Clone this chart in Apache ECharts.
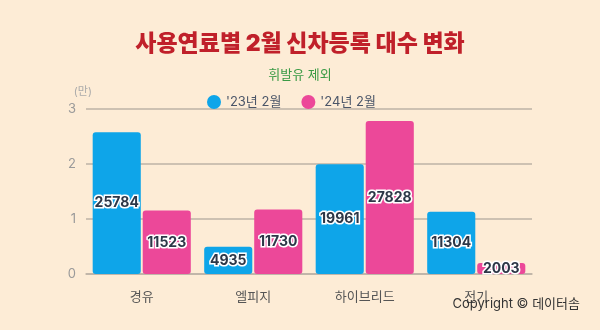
<!DOCTYPE html>
<html>
<head>
<meta charset="utf-8">
<script src="https://cdn.jsdelivr.net/npm/echarts@6/dist/echarts.min.js"></script>
<style>
html,body{margin:0;padding:0;background:#fdecd6;}
#chart{width:600px;height:330px;}
</style>
</head>
<body>
<div id="chart"></div>
<script>
// 연료별 2월 신차등록 대수 (휘발유 제외)
const categories = ['경유', '엘피지', '하이브리드', '전기'];
const seriesNames = ["'23년 2월", "'24년 2월"];
const feb2023 = [25784, 4935, 19961, 11304];
const feb2024 = [11523, 11730, 27828, 2003];
const yTickLabels = ['0', '1', '2', '3'];

const FONT = 'Inter, "Noto Sans CJK KR", "Noto Sans", sans-serif';
const colors = ['#0ea5e9', '#ec4899'];

const chart = echarts.init(document.getElementById('chart'));

const labelStyle = {
  show: true,
  position: 'inside',
  color: '#2d3748',
  fontWeight: 'bold',
  fontSize: 14,
  fontFamily: FONT,
  textBorderColor: '#ffffff',
  textBorderWidth: 3
};

chart.setOption({
  backgroundColor: '#fdecd6',
  title: [
    {
      text: '사용연료별 2월 신차등록 대수 변화',
      left: 'center',
      top: 28,
      textStyle: { color: '#c0202a', fontSize: 23, fontWeight: 900, fontFamily: FONT }
    },
    {
      text: '휘발유 제외',
      left: 'center',
      top: 64,
      textStyle: { color: '#3a9a45', fontSize: 13, fontWeight: 'normal', fontFamily: FONT }
    },
    {
      text: 'Copyright © 데이터솜',
      right: 15,
      top: 293,
      textStyle: { color: '#333333', fontSize: 13, fontWeight: 'normal', fontFamily: FONT }
    }
  ],
  legend: {
    top: 90,
    left: 202,
    icon: 'circle',
    itemWidth: 14,
    itemHeight: 14,
    itemGap: 20,
    data: seriesNames,
    textStyle: { color: '#4a5568', fontSize: 13, fontFamily: FONT }
  },
  grid: { left: 86, right: 68, top: 109, bottom: 56 },
  xAxis: {
    type: 'category',
    data: categories,
    axisTick: { show: false },
    axisLine: { show: true, lineStyle: { color: '#bdb3a6', width: 1.5 } },
    axisLabel: { color: '#555555', fontSize: 13, margin: 17, fontFamily: FONT }
  },
  yAxis: {
    type: 'value',
    min: 0,
    max: 30000,
    interval: 10000,
    name: '(만)',
    nameLocation: 'end',
    nameGap: 12,
    nameTextStyle: { color: '#aaaaaa', fontSize: 11, align: 'right', padding: [0, -6, 0, 0], fontFamily: FONT },
    axisLine: { show: false },
    axisTick: { show: false },
    axisLabel: {
      color: '#9a9a9a',
      fontSize: 13,
      margin: 10,
      fontFamily: FONT,
      formatter: (v) => yTickLabels[Math.round(v / 10000)]
    },
    splitLine: { lineStyle: { color: '#bdb3a6', width: 1.5 } }
  },
  series: [
    {
      name: seriesNames[0],
      type: 'bar',
      data: feb2023,
      barGap: '4%',
      barCategoryGap: '12%',
      itemStyle: { color: colors[0], borderRadius: 3 },
      label: labelStyle
    },
    {
      name: seriesNames[1],
      type: 'bar',
      data: feb2024,
      itemStyle: { color: colors[1], borderRadius: 3 },
      label: labelStyle
    }
  ]
});
</script>
</body>
</html>
